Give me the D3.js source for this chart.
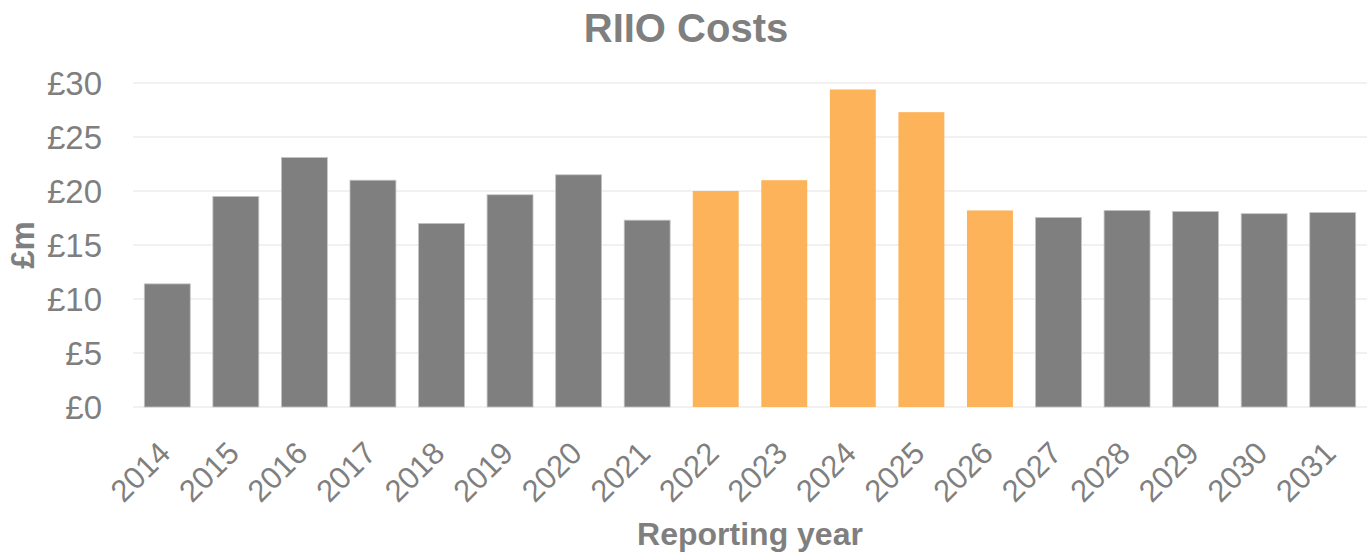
<!DOCTYPE html>
<html>
<head>
<meta charset="utf-8">
<script src="https://cdn.jsdelivr.net/npm/d3@7"></script>
<style>
  body { margin: 0; background: #fff; }
  svg { display: block; font-family: "Liberation Sans", Arial, sans-serif; }
</style>
</head>
<body>
<div id="chart"></div>
<script>
// Reporting years and costs (£m).
const years = ["2014", "2015", "2016", "2017", "2018", "2019", "2020", "2021", "2022",
               "2023", "2024", "2025", "2026", "2027", "2028", "2029", "2030", "2031"];
const costs = [11.4, 19.5, 23.1, 21.0, 17.0, 19.65, 21.5, 17.3, 20.0,
               21.0, 29.4, 27.3, 18.2, 17.55, 18.2, 18.1, 17.9, 18.0];
// Years drawn in orange.
const highlightYears = ["2022", "2023", "2024", "2025", "2026"];
const yTicks = [0, 5, 10, 15, 20, 25, 30];

const width = 1369, height = 552;
const margin = {top: 83, right: 2, bottom: 145, left: 133};
const textGrey = "#7f7f7f";

let svg = d3.select("#chart")
   .append("svg")
   .attr("width", width)
   .attr("height", height);

let x = d3.scaleBand()
   .domain(years)
   .range([margin.left, width - margin.right])
   .paddingInner(0.33)
   .paddingOuter(0.165);

let y = d3.scaleLinear()
   .domain([0, 30])
   .range([height - margin.bottom, margin.top]);

// Gridlines
svg.append("g")
   .selectAll("line")
   .data(yTicks)
   .enter()
   .append("line")
      .attr("x1", margin.left)
      .attr("x2", width - margin.right)
      .attr("y1", d => y(d))
      .attr("y2", d => y(d))
      .attr("stroke", "#ececec")
      .attr("stroke-width", 1.5);

// Y axis labels
let yAxis = svg.append("g")
   .attr("transform", "translate(" + (margin.left - 31) + ",0)")
   .call(d3.axisLeft(y).tickValues(yTicks).tickSize(0).tickPadding(0).tickFormat(d => "£" + d));
yAxis.select(".domain").remove();
yAxis.selectAll("text")
   .attr("fill", textGrey)
   .style("font-size", "33px")
   .attr("dy", "0.35em");

// Bars
svg.append("g")
   .selectAll("rect")
   .data(years)
   .enter()
   .append("rect")
      .attr("x", d => x(d))
      .attr("y", (d, i) => y(costs[i]))
      .attr("width", x.bandwidth())
      .attr("height", (d, i) => y(0) - y(costs[i]))
      .attr("fill", d => highlightYears.includes(d) ? "#fdb35a" : "#7f7f80")
      .attr("stroke", d => highlightYears.includes(d) ? "none" : "#c4c4c4")
      .attr("stroke-width", 0.8);

// X axis labels, rotated
let xAxis = svg.append("g")
   .attr("transform", "translate(0," + y(0) + ")")
   .call(d3.axisBottom(x).tickSize(0).tickPadding(0));
xAxis.select(".domain").remove();
xAxis.selectAll("text")
   .attr("fill", textGrey)
   .style("font-size", "31px")
   .attr("text-anchor", "end")
   .attr("y", 0)
   .attr("dy", 0)
   .attr("transform", "translate(5,48) rotate(-45)");

// Title
svg.append("text")
   .attr("x", 686)
   .attr("y", 42)
   .attr("text-anchor", "middle")
   .attr("fill", textGrey)
   .style("font-size", "40px")
   .style("font-weight", "bold")
   .text("RIIO Costs");

// Axis titles
svg.append("text")
   .attr("x", (margin.left + width - margin.right) / 2)
   .attr("y", 545)
   .attr("text-anchor", "middle")
   .attr("fill", textGrey)
   .style("font-size", "32px")
   .style("font-weight", "bold")
   .text("Reporting year");

svg.append("text")
   .attr("transform", "translate(34,245) rotate(-90)")
   .attr("text-anchor", "middle")
   .attr("fill", textGrey)
   .style("font-size", "33px")
   .style("font-weight", "bold")
   .text("£m");
</script>
</body>
</html>
